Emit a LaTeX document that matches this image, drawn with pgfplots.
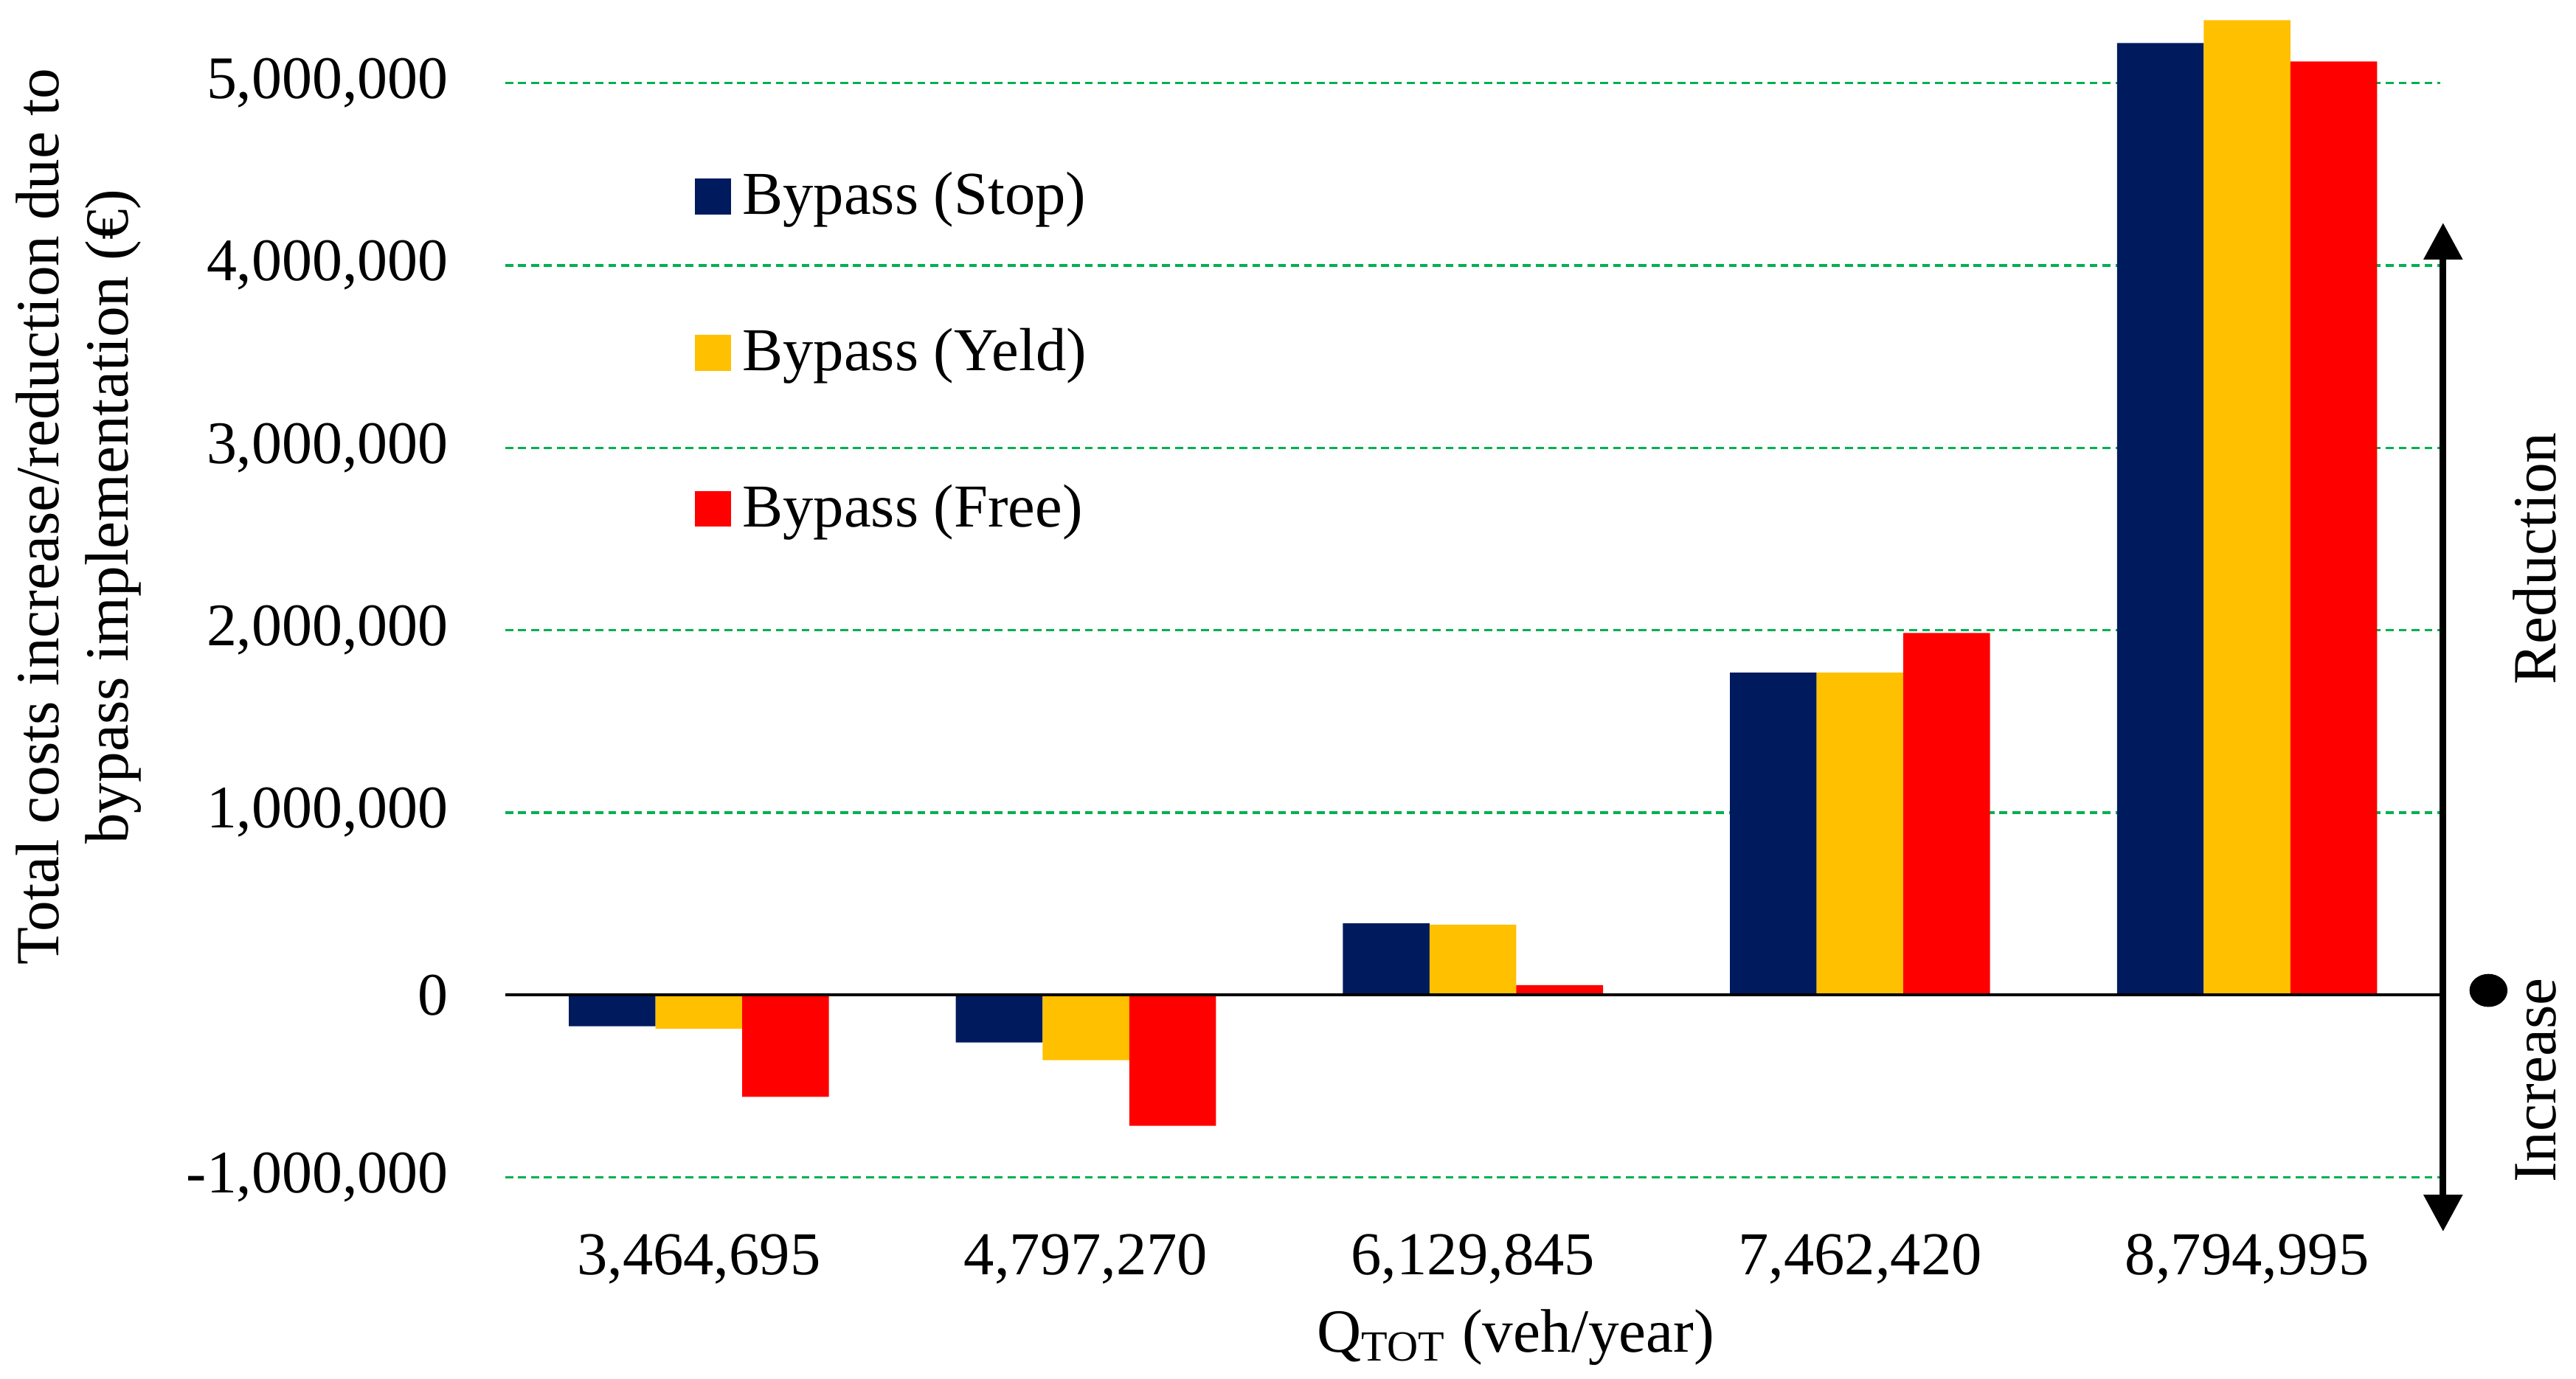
\documentclass[border=0pt]{standalone}
\usepackage{fontspec}
\setmainfont{Liberation Serif}
\usepackage{pgfplots}
\pgfplotsset{compat=1.18}
\usetikzlibrary{arrows.meta}
\definecolor{stopblue}{HTML}{001A5E}
\definecolor{yeldgold}{HTML}{FFC000}
\definecolor{freered}{HTML}{FF0000}
\definecolor{gridgreen}{HTML}{00B050}

\begin{document}
\begin{tikzpicture}[font=\fontsize{12.3}{14.8}\selectfont]
\begin{axis}[
  at={(0pt,0pt)}, anchor=south west,
  scale only axis,
  width=390.67pt, height=237.58pt,
  ybar=0pt, bar width=17.5pt,
  xmin=-0.5, xmax=4.5,
  ymin=-1000000, ymax=5450000,
  xtick={0,1,2,3,4},
  xticklabels={{3,464,695},{4,797,270},{6,129,845},{7,462,420},{8,794,995}},
  ytick={-1000000,0,1000000,2000000,3000000,4000000,5000000},
  yticklabels={{-1,000,000},{0},{1,000,000},{2,000,000},{3,000,000},{4,000,000},{5,000,000}},
  scaled y ticks=false,
  ymajorgrids,
  grid style={gridgreen, line width=0.5pt, dash pattern=on 1.6pt off 1pt},
  axis line style={draw=none},
  tick style={draw=none},
  xticklabel style={anchor=base, inner sep=0pt, yshift=-15.3pt},
  yticklabel style={anchor=east, inner sep=0pt, xshift=-11.3pt,
    font=\fontsize{12.2}{14.6}\selectfont},
  clip=false,
  legend style={draw=none, fill=none, inner sep=0pt, outer sep=0pt,
    at={(axis description cs:0.098,0.849)}, anchor=north west,
    row sep=24.26pt,
    nodes={inner sep=0pt, text height=7.27pt, text depth=0pt},
    /tikz/every odd column/.append style={column sep=2.33pt}},
  legend cell align=left,
  legend image code/.code={\fill[#1] (0pt,-3.635pt) rectangle (7.27pt,3.635pt);},
]
\addplot[fill=stopblue, draw=none] coordinates {
  (0,-171000) (1,-260000) (2,393000) (3,1767000) (4,5219000)};
\addplot[fill=yeldgold, draw=none] coordinates {
  (0,-185000) (1,-357000) (2,386000) (3,1767000) (4,5344000)};
\addplot[fill=freered, draw=none] coordinates {
  (0,-558000) (1,-717000) (2,54000) (3,1985000) (4,5118000)};
\legend{Bypass (Stop),Bypass (Yeld),Bypass (Free)}
\draw[black, line width=0.6pt] (axis cs:-0.5,0) -- (axis cs:4.5,0);
\end{axis}
\begin{scope}[x=0.33333pt, y=0.33333pt]
  % y label, two lines
  \node[rotate=90, align=center, font=\fontsize{12.4}{14}\selectfont]
    at (-258.3,400.3) {Total costs increase/reduction due to\\bypass implementation (€)};
  % x label
  \node[anchor=base, font=\fontsize{12.4}{14.9}\selectfont]
    at (612,-105.7) {Q\textsubscript{TOT} (veh/year)};
  % reduction / increase annotation
  \draw[line width=1.3pt, {Triangle[width=7.6pt,length=7.4pt]}-{Triangle[width=7.6pt,length=7.4pt]}]
    (1173.5,578.3) -- (1173.5,-32.7);
  \fill[black] (1201,113.3) ellipse [x radius=11.5, y radius=10];
  \node[rotate=90, anchor=base, font=\fontsize{12.4}{14.9}\selectfont] at (1241.6,374.8) {Reduction};
  \node[rotate=90, anchor=base, font=\fontsize{12.4}{14.9}\selectfont] at (1241.6,58.8) {Increase};
  \pgfresetboundingbox
  \path[use as bounding box] (-306,-121.7) rectangle (1254,713.3);
\end{scope}
\end{tikzpicture}
\end{document}
